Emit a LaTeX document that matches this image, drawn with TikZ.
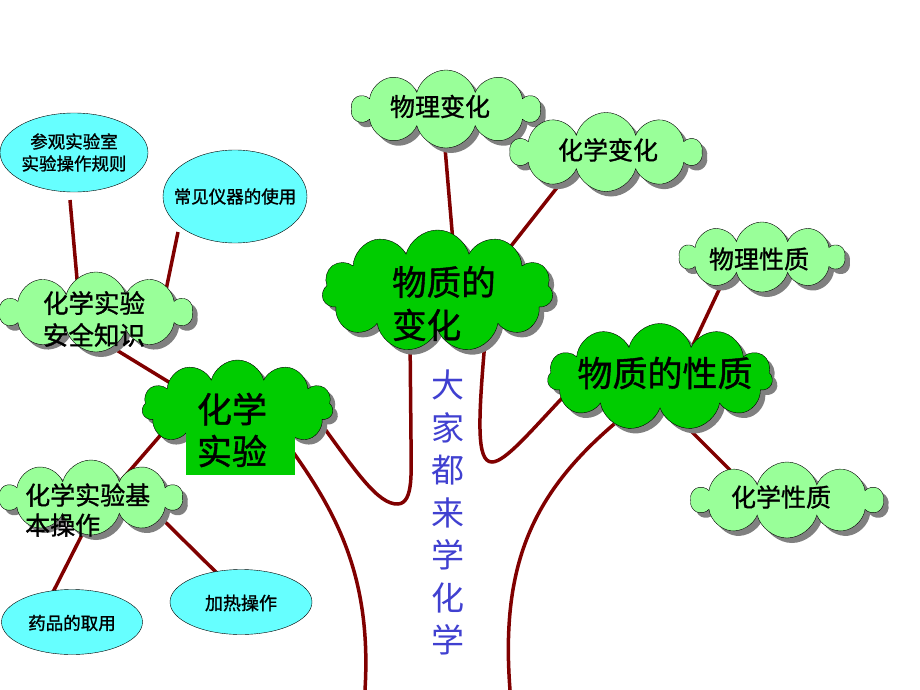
\documentclass[tikz,border=0pt]{standalone}
\usepackage{fontspec}
\setmainfont{Noto Sans CJK SC}[FakeBold=1.2]
\newfontfamily\mottofont{Noto Sans CJK SC}
\usepackage{tikz}
\usetikzlibrary{shapes.symbols, shapes.geometric, shadows, backgrounds}
\definecolor{leaf}{HTML}{99FF99}
\definecolor{crowngreen}{HTML}{00CC00}
\definecolor{fruit}{HTML}{66FFFF}
\definecolor{bark}{HTML}{800000}
\definecolor{motto}{RGB}{64,64,208}
\tikzset{
    twig/.style = {cloud, cloud puffs = 10, cloud puff arc = 150, cloud ignores aspect, draw = black, fill = leaf, inner sep = 0pt,
        drop shadow = {shadow xshift = 5pt, shadow yshift = -5pt, fill = black!50, opacity = 1}},
    crown/.style = {twig, cloud puffs = 11, fill = crowngreen},
    fruitnode/.style = {ellipse, draw = black, fill = fruit, inner sep = 0pt},
    branch/.style = {draw = bark, line width = 3.5pt},
    small/.style = {font = \fontsize{17.5}{22}\selectfont, align = center, inner sep = 0pt},
    medium/.style = {font = \fontsize{25}{31}\selectfont, align = center, inner sep = 0pt},
    large/.style = {font = \fontsize{34.5}{43}\selectfont, align = left, inner sep = 0pt}
}

\begin{document}
\begin{tikzpicture}[x = 1pt, y = -1pt]
    \useasboundingbox (0,0) rectangle (920,690);
    % leaves and fruits
    \node [fruitnode, minimum width = 148, minimum height = 79] (rules) at (74,152.5) {};
    \node [fruitnode, minimum width = 144, minimum height = 93] (instrument) at (235,196.5) {};
    \node [fruitnode, minimum width = 141, minimum height = 65] (drug) at (72,622) {};
    \node [fruitnode, minimum width = 142, minimum height = 65] (heat) at (241,602) {};
    \node [twig, minimum width = 192, minimum height = 80] (safety) at (96,312) {};
    \node [twig, minimum width = 182, minimum height = 75] (basic) at (91,497.5) {};
    \node [twig, minimum width = 188, minimum height = 78] (physchange) at (446,109) {};
    \node [twig, minimum width = 191, minimum height = 79] (chemchange) at (606,152) {};
    \node [twig, minimum width = 165, minimum height = 70] (physprop) at (762,257) {};
    \node [twig, minimum width = 191, minimum height = 76] (chemprop) at (787,500) {};
    \node [crown, minimum width = 191, minimum height = 95] (experiment) at (237.5,407.5) {};
    \node [crown, minimum width = 231, minimum height = 122] (change) at (437.5,291) {};
    \node [crown, minimum width = 225, minimum height = 107] (property) at (660,377) {};
    \coordinate (rootL) at (365,690);
    \coordinate (rootR) at (510,690);

    % texts
    \node [small] (rules-t) at (rules) {参观实验室\\实验操作规则};
    \node [small] (instrument-t) at (instrument) {常见仪器的使用};
    \node [small] (drug-t) at (72,623) {药品的取用};
    \node [small, font = \fontsize{18}{22}\selectfont] (heat-t) at (241,603) {加热操作};
    \node [medium, font = \fontsize{25.5}{32}\selectfont] (safety-t) at (94,319) {化学实验\\安全知识};
    \node [medium, align = left, anchor = west, font = \fontsize{25}{30}\selectfont] (basic-t) at (25,510) {化学实验基\\本操作};
    \node [medium] (physchange-t) at (440,106.5) {物理变化};
    \node [medium] (chemchange-t) at (608,150) {化学变化};
    \node [medium] (physprop-t) at (759,259) {物理性质};
    \node [medium] (chemprop-t) at (781,497) {化学性质};
    \node [large, anchor = west] (change-t) at (392,303.5) {物质的\\变化};
    \node [large, font = \fontsize{35}{43}\selectfont] (property-t) at (665,373) {物质的性质};
    \node [large, fill = crowngreen, minimum width = 109, minimum height = 90, text width = 87, inner xsep = 11pt,
        font = \fontsize{35}{42}\selectfont] (experiment-t) at (240.5,430) {化学\\实验};
    \node [align = center, inner sep = 0pt, text = motto, font = \mottofont\fontsize{33}{42.5}\selectfont] (motto-t) at (448,512.5)
        {大\\家\\都\\来\\学\\化\\学};

    % branches
    \begin{scope}[on background layer]
        \draw [branch] ([shift={(-4,47.5)}]rules.center) -- ([shift={(-18,-22)}]safety.center);
        \draw [branch] ([shift={(-57,35.5)}]instrument.center) -- ([shift={(70,-22)}]safety.center);
        \draw [branch] ([shift={(9,31)}]safety.center) -- ([shift={(-47.5,-12.5)}]experiment.center);
        \draw [branch] ([shift={(-72.5,22.5)}]experiment.center) -- ([shift={(22,-7.5)}]basic.center);
        \draw [branch] ([shift={(1,17.5)}]basic.center) -- ([shift={(-23,-22)}]drug.center);
        \draw [branch] ([shift={(52,2.5)}]basic.center) -- ([shift={(-12,-17)}]heat.center);
        \draw [branch] ([shift={(-2.5,21)}]physchange.center) -- ([shift={(17,-31)}]change.center);
        \draw [branch] ([shift={(-43,28)}]chemchange.center) -- ([shift={(66.5,-36)}]change.center);
        \draw [branch] ([shift={(-36,18)}]physprop.center) -- ([shift={(33,-32)}]property.center);
        \draw [branch] ([shift={(15,38)}]property.center) -- ([shift={(-42,-15)}]chemprop.center);
        % trunk
        \draw [branch] ([shift={(50.5,37.5)}]experiment.center) .. controls (335,510) and (372,575) .. (rootL);
        \draw [branch] ([shift={(84.5,17.5)}]experiment.center) .. controls (355,470) and (378,505) .. (398,504)
            .. controls (414,503) and (411,470) .. (411,440) -- ([shift={(-27.5,44)}]change.center);
        \draw [branch] ([shift={(48.5,39)}]change.center) .. controls (478,420) and (476,462) .. (492,462)
            .. controls (505,462) and (530,432) .. ([shift={(-95,18)}]property.center);
        \draw [branch] ([shift={(-35,38)}]property.center) .. controls (535,488) and (500,560) .. (rootR);
    \end{scope}
\end{tikzpicture}
\end{document}
